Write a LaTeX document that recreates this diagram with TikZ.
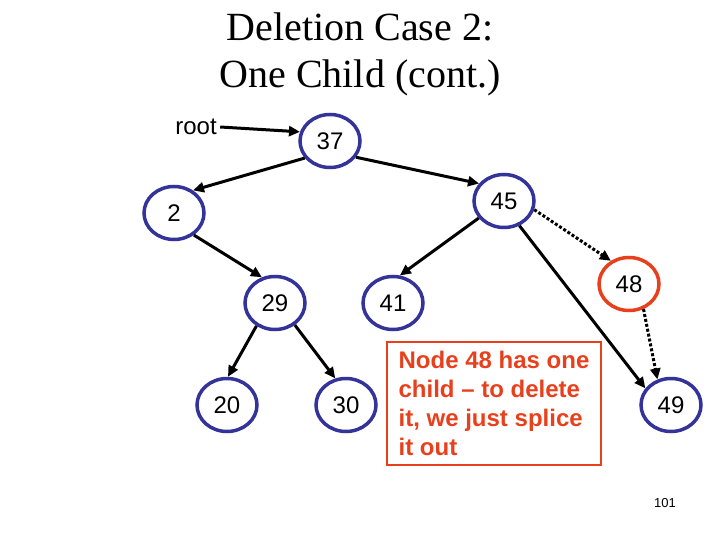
\documentclass[tikz,border=0pt]{standalone}
\usepackage{fontspec}
\setmainfont{Liberation Serif}
\setsansfont{Liberation Sans}
\usetikzlibrary{shapes.geometric,arrows.meta}
\definecolor{treeblue}{RGB}{51,51,153}
\definecolor{delred}{RGB}{232,64,28}
\tikzset{
  keynode/.style={ellipse,draw=treeblue,line width=3.5pt,minimum width=60pt,minimum height=53pt,inner sep=0pt,font=\sffamily\fontsize{24}{28}\selectfont},
  arr/.style={line width=3pt,-{Triangle[length=11pt,width=10pt]}},
  dotarr/.style={arr,dash pattern=on 3pt off 2pt}
}

\begin{document}
\begin{tikzpicture}[x=1pt,y=-1pt]
    \useasboundingbox (0,0) rectangle (720,540);

    % draw title
    \node[align=center,font=\fontsize{40}{47}\selectfont] (title) at (360,54) {Deletion Case 2:\\One Child (cont.)};

    % draw nodes
    \foreach \k/\x/\y in {37/330/141, 2/174/213, 45/504/201, 29/275/303, 41/393/303, 20/227/405, 30/346/405, 49/671/405}
    \node[keynode] (n\k) at (\x,\y) {\k};
    \node[keynode,draw=delred] (n48) at (629,284) {48};
    \node[font=\sffamily\fontsize{24}{28}\selectfont] (root) at (196,127) {root};

    % draw arrows
    \draw[arr] (root.east) -- (n37.163);
    \foreach \a/\s/\b/\e in {37/214/2/50, 37/328/45/145, 2/312/29/117, 45/214/41/76, 45/302/49/147, 29/231/20/88, 29/312/30/112}
    \draw[arr] (n\a.\s) -- (n\b.\e);
    \draw[dotarr] (n45.344) -- (n48.128);
    \draw[dotarr] (n48.300) -- (n49.118);

    % draw note
    \node[draw=delred,line width=1.2pt,minimum width=214pt,minimum height=123pt,align=left,text=delred,font=\sffamily\bfseries\fontsize{24}{29}\selectfont] (note) at (494,403.5) {Node 48 has one\\child -- to delete\\it, we just splice\\it out};
    \node[font=\sffamily\fontsize{13}{15}\selectfont] (page) at (665,503) {101};
\end{tikzpicture}
\end{document}
